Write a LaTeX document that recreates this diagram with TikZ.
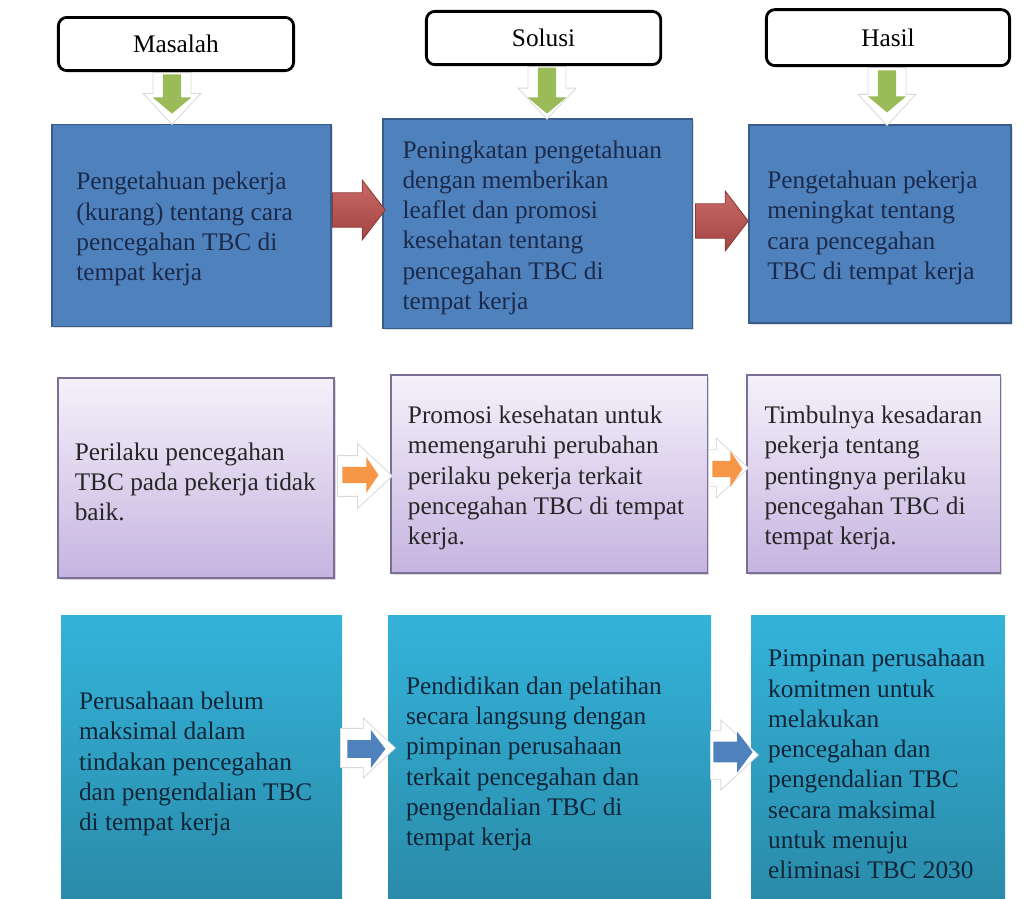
\documentclass[tikz,border=0pt]{standalone}
\usepackage{fontspec}
\setmainfont{Liberation Serif}
\usetikzlibrary{calc,positioning,shapes.arrows,shadows}
\definecolor{boxblue}{HTML}{4F81BD}
\definecolor{boxblueline}{HTML}{385D8A}
\definecolor{navytext}{HTML}{1B2A4A}
\definecolor{lavtop}{HTML}{F4F1FA}
\definecolor{lavbot}{HTML}{C6B4E0}
\definecolor{lavline}{HTML}{7D6E97}
\definecolor{tealtop}{HTML}{34B3DA}
\definecolor{tealbot}{HTML}{2A8AA8}
\definecolor{tealtext}{HTML}{102538}
\definecolor{arrred}{HTML}{C0504D}
\definecolor{arrredline}{HTML}{8C3A37}
\definecolor{arrgreen}{HTML}{9BBB59}
\definecolor{arrorange}{HTML}{F79646}
\definecolor{arrblue}{HTML}{4F81BD}

\begin{document}
\begin{tikzpicture}[every node/.style={font=\fontsize{18}{21.5}\selectfont},
head/.style={draw=black,line width=2pt,rounded corners=6pt,fill=white,minimum height=1.33cm},
bluebox/.style={draw=boxblueline,line width=1pt,fill=boxblue,drop shadow={opacity=.25,shadow xshift=.04cm,shadow yshift=-.05cm}},
lavbox/.style={draw=lavline,line width=1pt,top color=lavtop,bottom color=lavbot,drop shadow={opacity=.3,shadow xshift=.04cm,shadow yshift=-.06cm}},
tealbox/.style={top color=tealtop,bottom color=tealbot},
txt/.style={anchor=west,align=left,inner sep=0pt,yshift=-.1cm},
arr/.style={single arrow,anchor=tail,inner xsep=0pt,line width=.6pt},
glow/.style={arr,fill=white,draw=black!15,single arrow tip angle=86},
redarr/.style={arr,draw=arrredline,top color=arrred!85!white,bottom color=arrred!85!black,inner ysep=.325cm,minimum height=1.32cm,minimum width=1.5cm,single arrow tip angle=105},
greenarr/.style={arr,fill=arrgreen,rotate=-90,inner ysep=.22cm,minimum width=.8cm,single arrow tip angle=100},
orangearr/.style={arr,fill=arrorange,inner ysep=.19cm,single arrow tip angle=112},
bluearr/.style={arr,fill=arrblue,single arrow tip angle=105}]
\useasboundingbox (0,0) rectangle (25.85,-22.475);

% baris 1: pengetahuan
\node[bluebox,minimum width=6.98cm,minimum height=5.05cm] (m1) at (4.79,-5.63) {};
\node[bluebox,minimum width=7.73cm,minimum height=5.23cm] (s1) at (13.44,-5.59) {};
\node[bluebox,minimum width=6.55cm,minimum height=4.95cm] (h1) at (22.0,-5.6) {};
\node[txt,text=navytext] (m1t) at ([xshift=.62cm]m1.west) {Pengetahuan pekerja\\(kurang) tentang cara\\pencegahan TBC di\\tempat kerja};
\node[txt,text=navytext] (s1t) at ([xshift=.5cm]s1.west) {Peningkatan pengetahuan\\dengan memberikan\\leaflet dan promosi\\kesehatan tentang\\pencegahan TBC di\\tempat kerja};
\node[txt,text=navytext] (h1t) at ([xshift=.47cm]h1.west) {Pengetahuan pekerja\\meningkat tentang\\cara pencegahan\\TBC di tempat kerja};

% baris 2: perilaku
\node[lavbox,minimum width=6.9cm,minimum height=5.0cm] (m2) at (4.90,-11.95) {};
\node[lavbox,minimum width=7.9cm,minimum height=4.95cm] (s2) at (13.73,-11.85) {};
\node[lavbox,minimum width=6.33cm,minimum height=4.95cm] (h2) at (21.84,-11.85) {};
\node[txt,text=black!85] (m2t) at ([xshift=.43cm]m2.west) {Perilaku pencegahan\\TBC pada pekerja tidak\\baik.};
\node[txt,text=black!85] (s2t) at ([xshift=.43cm]s2.west) {Promosi kesehatan untuk\\memengaruhi perubahan\\perilaku pekerja terkait\\pencegahan TBC di tempat\\kerja.};
\node[txt,text=black!85] (h2t) at ([xshift=.45cm]h2.west) {Timbulnya kesadaran\\pekerja tentang\\pentingnya perilaku\\pencegahan TBC di\\tempat kerja.};

% baris 3: perusahaan
\node[tealbox,minimum width=7.03cm,minimum height=7.25cm] (m3) at (5.04,-19.0) {};
\node[tealbox,minimum width=8.08cm,minimum height=7.25cm] (s3) at (13.74,-19.0) {};
\node[tealbox,minimum width=6.35cm,minimum height=7.25cm] (h3) at (21.95,-19.0) {};
\node[txt,text=tealtext] (m3t) at ([xshift=.45cm]m3.west) {Perusahaan belum\\maksimal dalam\\tindakan pencegahan\\dan pengendalian TBC\\di tempat kerja};
\node[txt,text=tealtext] (s3t) at ([xshift=.45cm]s3.west) {Pendidikan dan pelatihan\\secara langsung dengan\\pimpinan perusahaan\\terkait pencegahan dan\\pengendalian TBC di\\tempat kerja};
\node[txt,text=tealtext] (h3t) at ([xshift=.43cm]h3.west) {Pimpinan perusahaan\\komitmen untuk\\melakukan\\pencegahan dan\\pengendalian TBC\\secara maksimal\\untuk menuju\\eliminasi TBC 2030};

% panah (ditempatkan pada ekornya)
\node[glow,rotate=-90,inner ysep=.46cm,minimum height=1.3cm,minimum width=1.45cm] (gM) at (4.30,-1.80) {};
\node[glow,rotate=-90,inner ysep=.46cm,minimum height=1.32cm,minimum width=1.45cm] (gS) at (13.675,-1.65) {};
\node[glow,rotate=-90,inner ysep=.46cm,minimum height=1.45cm,minimum width=1.45cm] (gH) at (22.175,-1.675) {};
\node[greenarr,minimum height=.98cm] (aM) at (4.30,-1.85) {};\node[greenarr,minimum height=1.15cm] (aS) at (13.675,-1.68) {};\node[greenarr,minimum height=1.05cm] (aH) at (22.175,-1.75) {};
\node[redarr] (r1) at (8.30,-5.25) {};\node[redarr] (r2) at (17.375,-5.525) {};
\node[glow,inner ysep=.41cm,minimum height=1.375cm,minimum width=1.625cm] (go1) at (8.425,-11.9) {};
\node[glow,inner ysep=.375cm,minimum height=1.0cm,minimum width=1.5cm] (go2) at (17.7,-11.7) {};
\node[orangearr,minimum height=.9cm,minimum width=.85cm] (o1) at (8.55,-11.875) {};
\node[orangearr,minimum height=.75cm,minimum width=.75cm] (o2) at (17.8,-11.725) {};
\node[glow,inner ysep=.46cm,minimum height=1.375cm,minimum width=1.5cm] (gb1) at (8.5,-18.7) {};
\node[glow,inner ysep=.55cm,minimum height=1.2cm,minimum width=1.75cm] (gb2) at (17.75,-18.875) {};
\node[bluearr,inner ysep=.21cm,minimum height=.95cm,minimum width=.85cm] (b1) at (8.675,-18.725) {};
\node[bluearr,inner ysep=.25cm,minimum height=.98cm,minimum width=1.0cm,single arrow tip angle=106] (b2) at (17.825,-18.8) {};

% judul kolom
\node[head,minimum width=5.88cm] (hM) at (4.40,-1.10) {\fontsize{18}{21}\selectfont Masalah};
\node[head,minimum width=5.86cm] (hS) at (13.59,-0.95) {\fontsize{18}{21}\selectfont Solusi};
\node[head,minimum width=6.08cm,minimum height=1.4cm] (hH) at (22.20,-0.94) {\fontsize{18}{21}\selectfont Hasil};
\end{tikzpicture}
\end{document}
